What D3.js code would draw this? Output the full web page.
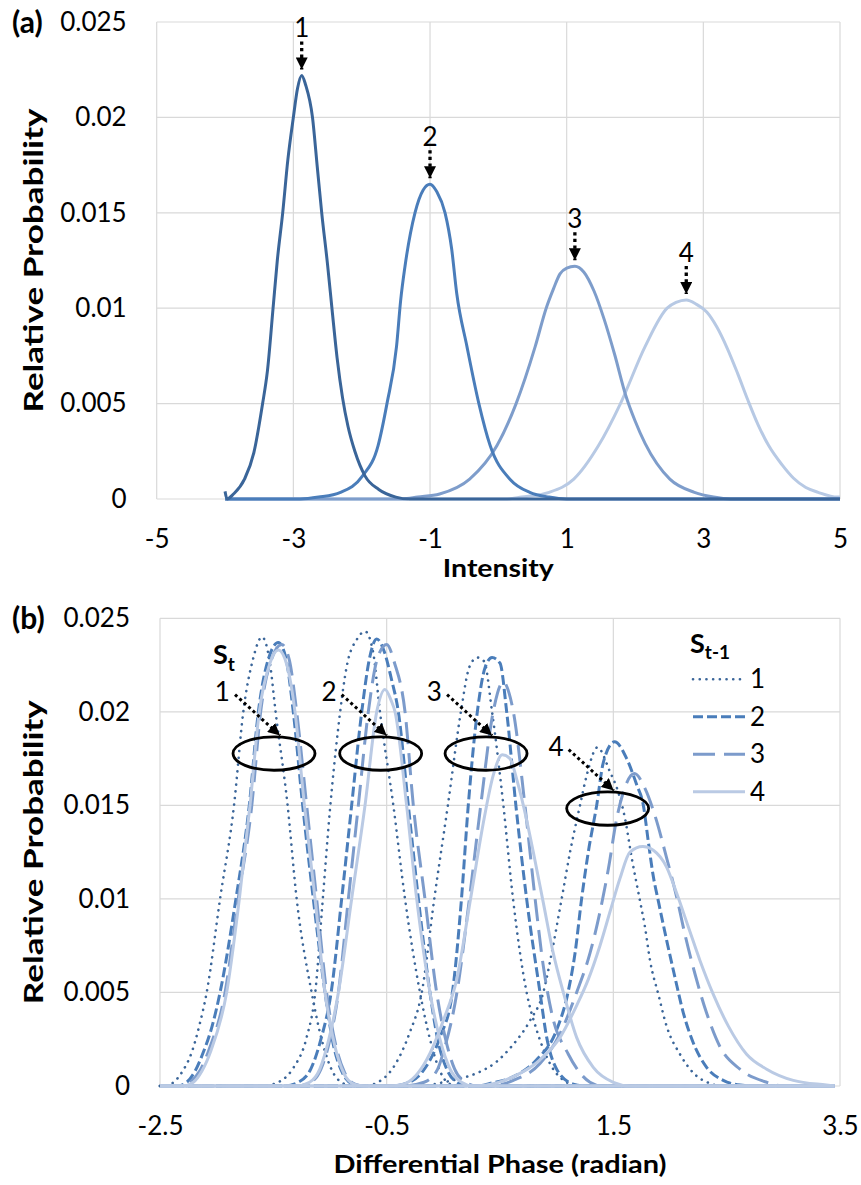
<!DOCTYPE html>
<html>
<head>
<meta charset="utf-8">
<script src="https://cdn.jsdelivr.net/npm/d3@7"></script>
<style>
  body { margin: 0; background: #fff; }
  svg { display: block; }
</style>
</head>
<body>
<div id="chart"></div>
<script>
// ---------- shared ----------
const probTicks = [0, 0.005, 0.01, 0.015, 0.02, 0.025];

// ---------- (a) intensity distributions, one per symbol ----------
const intensityTicks = [-5, -3, -1, 1, 3, 5];
const intensitySymbols = ['1', '2', '3', '4'];

const intensity1 = [[-4, 0.0004], [-3.97, 0], [-3.876, 0.00026], [-3.715, 0.00104], [-3.578, 0.00243],
  [-3.45, 0.005], [-3.38, 0.0067], [-3.297, 0.01], [-3.235, 0.0125], [-3.156, 0.015], [-3.08, 0.0178],
  [-3.0, 0.02], [-2.94, 0.0215], [-2.878, 0.0222], [-2.82, 0.0217], [-2.72, 0.02], [-2.65, 0.0174],
  [-2.585, 0.015], [-2.5, 0.0123], [-2.43, 0.0098], [-2.36, 0.0074], [-2.28, 0.0053], [-2.2, 0.0038],
  [-2.1, 0.0025], [-1.95, 0.0012], [-1.75, 0.0005], [-1.5, 0.0001], [-1.3, 0], [5, 0]];

const intensity2 = [[-4, 0], [-2.9, 0], [-2.63, 0.0001], [-2.31, 0.00035], [-1.99, 0.0012], [-1.76, 0.0028],
  [-1.63, 0.005], [-1.49, 0.008], [-1.43, 0.0104], [-1.366, 0.0122], [-1.22, 0.015], [-1.1, 0.0162],
  [-1.0, 0.0165], [-0.9, 0.0161], [-0.78, 0.015], [-0.683, 0.0131], [-0.61, 0.0108], [-0.46, 0.008],
  [-0.285, 0.005], [-0.12, 0.0028], [0.18, 0.001], [0.46, 0.00035], [0.74, 0.0001], [1.0, 0], [5, 0]];

const intensity3 = [[-4, 0], [-1.4, 0], [-1.18, 0.0001], [-0.86, 0.00026], [-0.42, 0.00104], [-0.02, 0.0028],
  [0.26, 0.005], [0.54, 0.008], [0.70, 0.01], [0.805, 0.011], [0.902, 0.0118], [1.0, 0.0121], [1.12, 0.0122],
  [1.25, 0.0119], [1.4, 0.0109], [1.55, 0.0094], [1.7, 0.0076], [1.867, 0.0054], [2.0, 0.0041],
  [2.149, 0.0029], [2.51, 0.00104], [2.87, 0.00035], [3.15, 0.0001], [3.4, 0], [5, 0]];

const intensity4 = [[-4, 0], [0.1, 0], [0.34, 0.0001], [0.743, 0.00035], [1.104, 0.00104], [1.466, 0.0028],
  [1.787, 0.005], [2.149, 0.008], [2.47, 0.01], [2.6, 0.0103], [2.75, 0.01043], [2.9, 0.0102],
  [3.05, 0.0098], [3.2, 0.009], [3.35, 0.0079], [3.5, 0.0066], [3.65, 0.0052], [3.8, 0.0039],
  [3.956, 0.0028], [4.15, 0.0018], [4.317, 0.0011], [4.5, 0.0006], [4.68, 0.00035], [4.96, 0.0001],
  [5, 0.0001]];

// ---------- (b) differential phase, by current (St) and previous (St-1) symbol ----------
const phaseTicks = [-2.5, -0.5, 1.5, 3.5];
const prevSymbols = ['1', '2', '3', '4'];

const phaseSt1Prev1 = [[-2.5, 0], [-2.45, 0], [-2.38, 0.0002], [-2.3, 0.0008], [-2.22, 0.0018], [-2.15, 0.0033],
  [-2.088, 0.005], [-1.97, 0.01], [-1.847, 0.015], [-1.765, 0.02], [-1.68, 0.0228], [-1.6, 0.024],
  [-1.53, 0.0226], [-1.48, 0.02], [-1.374, 0.015], [-1.294, 0.01], [-1.162, 0.005], [-1.07, 0.0024],
  [-0.98, 0.0008], [-0.9, 0.0002], [-0.8, 0], [3.45, 0]];
const phaseSt1Prev2 = [[-2.5, 0], [-2.35, 0], [-2.265, 0.0002], [-2.19, 0.0008], [-2.118, 0.0018], [-2.04, 0.0032],
  [-1.97, 0.005], [-1.83, 0.01], [-1.712, 0.015], [-1.632, 0.02], [-1.54, 0.0229], [-1.456, 0.0237],
  [-1.39, 0.0229], [-1.324, 0.02], [-1.241, 0.015], [-1.147, 0.01], [-1.044, 0.005], [-0.97, 0.0022],
  [-0.89, 0.0007], [-0.8, 0.0001], [-0.72, 0], [3.45, 0]];
const phaseSt1Prev3 = [[-2.5, 0], [-2.32, 0], [-2.235, 0.0002], [-2.15, 0.0008], [-2.07, 0.0019], [-1.926, 0.005],
  [-1.81, 0.01], [-1.69, 0.015], [-1.612, 0.02], [-1.51, 0.0229], [-1.426, 0.0236], [-1.36, 0.0228],
  [-1.294, 0.02], [-1.206, 0.015], [-1.118, 0.01], [-1.03, 0.005], [-0.95, 0.0022], [-0.87, 0.0007],
  [-0.78, 0.0001], [-0.7, 0], [3.45, 0]];
const phaseSt1Prev4 = [[-2.5, 0], [-2.3, 0], [-2.206, 0.0002], [-2.13, 0.0008], [-2.05, 0.0019], [-1.912, 0.005],
  [-1.8, 0.01], [-1.706, 0.015], [-1.624, 0.02], [-1.53, 0.0226], [-1.456, 0.0233], [-1.38, 0.0225],
  [-1.309, 0.02], [-1.226, 0.015], [-1.132, 0.01], [-1.044, 0.005], [-0.96, 0.0022], [-0.88, 0.0007],
  [-0.79, 0.0001], [-0.7, 0], [3.45, 0]];

const phaseSt2Prev1 = [[-2.5, 0], [-1.6, 0], [-1.5, 0.0001], [-1.32, 0.001], [-1.206, 0.0026], [-1.13, 0.005],
  [-1.07, 0.0095], [-1.0, 0.0148], [-0.93, 0.019], [-0.85, 0.0225], [-0.76, 0.0239], [-0.69, 0.0243],
  [-0.62, 0.0232], [-0.559, 0.02], [-0.441, 0.015], [-0.338, 0.01], [-0.206, 0.005], [-0.118, 0.0025],
  [-0.03, 0.0008], [0.06, 0.0001], [0.15, 0], [3.45, 0]];
const phaseSt2Prev2 = [[-2.5, 0], [-1.4, 0], [-1.28, 0.0002], [-1.17, 0.0009], [-1.08, 0.0025], [-0.99, 0.005],
  [-0.897, 0.01], [-0.809, 0.015], [-0.72, 0.02], [-0.65, 0.0229], [-0.588, 0.0239], [-0.52, 0.0232],
  [-0.46, 0.0218], [-0.397, 0.02], [-0.309, 0.015], [-0.22, 0.01], [-0.118, 0.005], [-0.05, 0.0025],
  [0.03, 0.0009], [0.12, 0.0002], [0.22, 0], [3.45, 0]];
const phaseSt2Prev3 = [[-2.5, 0], [-1.3, 0], [-1.17, 0.0002], [-1.08, 0.0009], [-1.0, 0.0025], [-0.926, 0.005],
  [-0.838, 0.01], [-0.75, 0.015], [-0.662, 0.02], [-0.58, 0.0229], [-0.5, 0.0236], [-0.43, 0.0226],
  [-0.338, 0.02], [-0.265, 0.015], [-0.162, 0.01], [-0.059, 0.005], [0.02, 0.0025], [0.1, 0.0009],
  [0.2, 0.0002], [0.3, 0], [3.45, 0]];
const phaseSt2Prev4 = [[-2.5, 0], [-1.3, 0], [-1.18, 0.0002], [-1.09, 0.0009], [-1.01, 0.0025], [-0.926, 0.005],
  [-0.809, 0.01], [-0.691, 0.015], [-0.588, 0.02], [-0.515, 0.0212], [-0.46, 0.0206], [-0.426, 0.02],
  [-0.324, 0.015], [-0.235, 0.01], [-0.118, 0.005], [-0.03, 0.0025], [0.06, 0.0009], [0.16, 0.0002],
  [0.26, 0], [3.45, 0]];

const phaseSt3Prev1 = [[-2.5, 0], [-0.7, 0], [-0.55, 0.0003], [-0.42, 0.0012], [-0.3, 0.0028], [-0.19, 0.005],
  [-0.08, 0.01], [0.04, 0.015], [0.155, 0.02], [0.23, 0.0224], [0.3, 0.0229], [0.36, 0.0227], [0.43, 0.02],
  [0.53, 0.015], [0.615, 0.01], [0.735, 0.005], [0.823, 0.003], [0.941, 0.0012], [1.088, 0.0002],
  [1.2, 0], [3.45, 0]];
const phaseSt3Prev2 = [[-2.5, 0], [-0.45, 0], [-0.3, 0.0002], [-0.18, 0.0008], [-0.03, 0.0026], [0.08, 0.005],
  [0.16, 0.01], [0.22, 0.015], [0.3, 0.02], [0.37, 0.0224], [0.43, 0.0229], [0.5, 0.0226], [0.559, 0.02],
  [0.64, 0.015], [0.735, 0.01], [0.853, 0.005], [0.912, 0.0026], [1.0, 0.0009], [1.147, 0.0001],
  [1.25, 0], [3.45, 0]];
const phaseSt3Prev3 = [[-2.5, 0], [-0.35, 0], [-0.17, 0.0002], [-0.05, 0.0009], [0.0, 0.0018], [0.12, 0.005],
  [0.23, 0.01], [0.33, 0.015], [0.44, 0.02], [0.53, 0.0216], [0.58, 0.021], [0.618, 0.02], [0.72, 0.015],
  [0.81, 0.01], [0.88, 0.0065], [0.956, 0.0039], [1.103, 0.0017], [1.294, 0.0002], [1.4, 0], [3.45, 0]];
const phaseSt3Prev4 = [[-2.5, 0], [-0.5, 0], [-0.353, 0.0001], [-0.147, 0.0014], [0.0, 0.0035], [0.118, 0.0057],
  [0.24, 0.01], [0.36, 0.0143], [0.44, 0.0166], [0.52, 0.0177], [0.588, 0.0175], [0.647, 0.0164],
  [0.706, 0.015], [0.794, 0.0125], [0.882, 0.0098], [0.97, 0.0071], [1.059, 0.005], [1.176, 0.0026],
  [1.323, 0.001], [1.5, 0.0002], [1.65, 0], [3.45, 0]];

const phaseSt4Prev1 = [[-2.5, 0], [-0.2, 0], [0.0, 0.0002], [0.15, 0.0004], [0.3, 0.0007], [0.47, 0.0013],
  [0.6, 0.0021], [0.765, 0.0035], [0.882, 0.005], [0.956, 0.0071], [1.044, 0.01], [1.118, 0.0125],
  [1.206, 0.015], [1.265, 0.0166], [1.36, 0.0181], [1.47, 0.0168], [1.544, 0.0157], [1.603, 0.0143],
  [1.662, 0.0122], [1.735, 0.0099], [1.779, 0.0085], [1.824, 0.0067], [1.897, 0.0049], [1.97, 0.0032],
  [2.088, 0.0017], [2.206, 0.0007], [2.353, 0.00014], [2.45, 0], [3.45, 0]];
const phaseSt4Prev2 = [[-2.5, 0], [0.3, 0], [0.41, 0.00014], [0.618, 0.0005], [0.823, 0.0014], [1.0, 0.003],
  [1.1, 0.005], [1.162, 0.0071], [1.22, 0.01], [1.279, 0.0125], [1.353, 0.015], [1.412, 0.0173],
  [1.51, 0.0184], [1.618, 0.0175], [1.706, 0.0161], [1.765, 0.015], [1.81, 0.013], [1.85, 0.0113],
  [1.9, 0.0098], [1.97, 0.0078], [2.044, 0.0058], [2.118, 0.0039], [2.206, 0.0023], [2.323, 0.001],
  [2.47, 0.0003], [2.62, 0.00005], [2.75, 0], [3.45, 0]];
const phaseSt4Prev3 = [[-2.5, 0], [0.4, 0], [0.618, 0.0003], [0.853, 0.0012], [1.03, 0.0028], [1.176, 0.005],
  [1.294, 0.0071], [1.382, 0.0093], [1.456, 0.0116], [1.53, 0.0143], [1.588, 0.0157], [1.685, 0.0167],
  [1.78, 0.0159], [1.87, 0.0144], [1.97, 0.0122], [2.059, 0.0101], [2.132, 0.0081], [2.22, 0.006],
  [2.323, 0.0039], [2.441, 0.0021], [2.617, 0.0009], [2.853, 0.0002], [3.0, 0], [3.45, 0]];
const phaseSt4Prev4 = [[-2.5, 0], [0.25, 0], [0.38, 0.00005], [0.618, 0.0005], [0.853, 0.0014], [1.03, 0.0026],
  [1.176, 0.0043], [1.279, 0.0057], [1.382, 0.0075], [1.47, 0.0093], [1.559, 0.0111], [1.647, 0.0125],
  [1.76, 0.0128], [1.853, 0.0126], [1.97, 0.0117], [2.059, 0.0103], [2.162, 0.0085], [2.265, 0.0067],
  [2.382, 0.0049], [2.515, 0.0032], [2.676, 0.0017], [2.853, 0.0009], [3.088, 0.0003], [3.38, 0.00005],
  [3.45, 0]];

// ellipse marks around each St cluster (phase, probability)
const clusterPhase = [-1.494, -0.553, 0.377, 1.45];
const clusterProb = [0.01777, 0.01777, 0.01777, 0.01483];

// ---------- styling ----------
const FONT = 'Lato, "Open Sans", "Noto Sans", sans-serif';
const gridColor = '#d9d9d9';
const intensityColors = ['#3A6599', '#4A7DBA', '#7E9DCB', '#B7C9E4'];
const prevStyles = [
  { color: '#3A6599', width: 2.6, dash: '0.1,6.6', cap: 'round' },
  { color: '#4A7DBA', width: 3, dash: '10,4', cap: 'butt' },
  { color: '#7C9BCB', width: 3, dash: '22,9', cap: 'butt' },
  { color: '#BACAE4', width: 3, dash: null, cap: 'butt' }
];

const svg = d3.select('#chart').append('svg')
  .attr('width', 861)
  .attr('height', 1185)
  .style('font-family', FONT);

const defs = svg.append('defs');
defs.append('marker')
  .attr('id', 'arrow-tip')
  .attr('viewBox', '0 0 12 12')
  .attr('refX', 12)
  .attr('refY', 6)
  .attr('markerWidth', 12)
  .attr('markerHeight', 12)
  .attr('markerUnits', 'userSpaceOnUse')
  .attr('orient', 'auto')
  .append('path')
  .attr('d', 'M0,0 L12,6 L0,12 Z')
  .attr('fill', '#000');

// frame, gridlines, tick labels and titles for one panel
function makePanel({ left, top, width, height, xDomain, xTicks, xTitle, xTitleLen, xTitleGap, tag }) {
  const g = svg.append('g').attr('transform', `translate(${left},${top})`);
  const x = d3.scaleLinear().domain(xDomain).range([0, width]);
  const y = d3.scaleLinear().domain([0, 0.025]).range([height, 0]);

  g.append('g').selectAll('line')
    .data(xTicks)
    .join('line')
    .attr('x1', d => x(d)).attr('x2', d => x(d))
    .attr('y1', 0).attr('y2', height)
    .attr('stroke', gridColor)
    .attr('stroke-width', 1.2);

  g.append('g').selectAll('line')
    .data(probTicks)
    .join('line')
    .attr('x1', 0).attr('x2', width)
    .attr('y1', d => y(d)).attr('y2', d => y(d))
    .attr('stroke', gridColor)
    .attr('stroke-width', 1.2);

  g.append('g')
    .attr('transform', `translate(0,${height})`)
    .call(d3.axisBottom(x).tickValues(xTicks).tickSize(0).tickPadding(31).tickFormat(d => String(d)))
    .call(ax => ax.select('.domain').remove())
    .attr('font-family', FONT)
    .attr('font-size', 26)
    .selectAll('text').attr('fill', '#000');

  g.append('g')
    .call(d3.axisLeft(y).tickValues(probTicks).tickSize(0).tickPadding(30).tickFormat(d => String(d)))
    .call(ax => ax.select('.domain').remove())
    .attr('font-family', FONT)
    .attr('font-size', 26)
    .selectAll('text').attr('fill', '#000');

  g.append('text')
    .attr('x', width / 2)
    .attr('y', height + xTitleGap)
    .attr('text-anchor', 'middle')
    .attr('font-weight', 'bold')
    .attr('font-size', 25)
    .attr('textLength', xTitleLen)
    .attr('lengthAdjust', 'spacingAndGlyphs')
    .text(xTitle);

  g.append('text')
    .attr('transform', `translate(${34 - left},${height / 2}) rotate(-90)`)
    .attr('text-anchor', 'middle')
    .attr('dy', '0.35em')
    .attr('font-weight', 'bold')
    .attr('font-size', 27)
    .attr('textLength', 304)
    .attr('lengthAdjust', 'spacingAndGlyphs')
    .text('Relative Probability');

  g.append('text')
    .attr('x', 12 - left)
    .attr('y', 0)
    .attr('dy', '0.36em')
    .attr('font-weight', 'bold')
    .attr('font-size', 30)
    .text(tag);

  return { g, x, y };
}

// ---------- panel (a) ----------
const a = makePanel({
  left: 156.7, top: 22, width: 683.3, height: 477,
  xDomain: [-5, 5], xTicks: intensityTicks,
  xTitle: 'Intensity', xTitleLen: 111, xTitleGap: 78, tag: '(a)'
});

const intensityCurves = [intensity1, intensity2, intensity3, intensity4];
const lineA = d3.line()
  .x(d => a.x(d[0]))
  .y(d => a.y(d[1]))
  .curve(d3.curveMonotoneX);

a.g.append('g').selectAll('path')
  .data(intensityCurves.map((pts, i) => ({ pts, i })).reverse())
  .join('path')
  .attr('d', d => lineA(d.pts))
  .attr('fill', 'none')
  .attr('stroke', d => intensityColors[d.i])
  .attr('stroke-width', 3)
  .attr('stroke-linejoin', 'round');

// peak call-outs
const peaks = intensityCurves.map((pts, i) => {
  const p = d3.greatest(pts, d => d[1]);
  return { label: intensitySymbols[i], px: a.x(p[0]), py: a.y(p[1]) };
});
const callA = a.g.append('g').selectAll('g').data(peaks).join('g');
callA.append('line')
  .attr('x1', d => d.px).attr('x2', d => d.px)
  .attr('y1', d => d.py - 34).attr('y2', d => d.py - 6)
  .attr('stroke', '#000')
  .attr('stroke-width', 3.3)
  .attr('stroke-dasharray', '3.3,3.3')
  .attr('marker-end', 'url(#arrow-tip)');
callA.append('text')
  .attr('x', d => d.px)
  .attr('y', d => d.py - 38)
  .attr('text-anchor', 'middle')
  .attr('font-size', 26)
  .text(d => d.label);

// ---------- panel (b) ----------
const b = makePanel({
  left: 160, top: 618.3, width: 680, height: 467.7,
  xDomain: [-2.5, 3.5], xTicks: phaseTicks,
  xTitle: 'Differential Phase (radian)', xTitleLen: 333, xTitleGap: 87, tag: '(b)'
});

const phaseCurves = [
  [phaseSt1Prev1, phaseSt1Prev2, phaseSt1Prev3, phaseSt1Prev4],
  [phaseSt2Prev1, phaseSt2Prev2, phaseSt2Prev3, phaseSt2Prev4],
  [phaseSt3Prev1, phaseSt3Prev2, phaseSt3Prev3, phaseSt3Prev4],
  [phaseSt4Prev1, phaseSt4Prev2, phaseSt4Prev3, phaseSt4Prev4]
];
// draw by previous symbol so each line style stacks together
const phaseSeries = [];
prevSymbols.forEach((_, p) => phaseCurves.forEach(group => phaseSeries.push({ pts: group[p], style: prevStyles[p] })));

const lineB = d3.line()
  .x(d => b.x(d[0]))
  .y(d => b.y(d[1]))
  .curve(d3.curveMonotoneX);

b.g.append('g').selectAll('path')
  .data(phaseSeries)
  .join('path')
  .attr('d', d => lineB(d.pts))
  .attr('fill', 'none')
  .attr('stroke', d => d.style.color)
  .attr('stroke-width', d => d.style.width)
  .attr('stroke-dasharray', d => d.style.dash)
  .attr('stroke-linecap', d => d.style.cap)
  .attr('stroke-linejoin', 'round');

// St clusters: ellipse plus dotted arrow from the symbol number
const clusters = clusterPhase.map((ph, i) => ({ cx: b.x(ph), cy: b.y(clusterProb[i]), label: String(i + 1) }));
const callB = b.g.append('g').selectAll('g').data(clusters).join('g');
callB.append('ellipse')
  .attr('cx', d => d.cx).attr('cy', d => d.cy)
  .attr('rx', 41).attr('ry', 16.7)
  .attr('fill', 'none')
  .attr('stroke', '#000')
  .attr('stroke-width', 2.8);
callB.append('line')
  .attr('x1', d => d.cx - 39).attr('y1', d => d.cy - 59)
  .attr('x2', d => d.cx + 6).attr('y2', d => d.cy - 18)
  .attr('stroke', '#000')
  .attr('stroke-width', 3)
  .attr('stroke-dasharray', '3,3')
  .attr('marker-end', 'url(#arrow-tip)');
callB.append('text')
  .attr('x', d => d.cx - 51.7)
  .attr('y', d => d.cy - 62)
  .attr('dy', '0.35em')
  .attr('text-anchor', 'middle')
  .attr('font-size', 26)
  .text(d => d.label);

const stLabel = b.g.append('text')
  .attr('x', 53)
  .attr('y', 46)
  .attr('font-weight', 'bold')
  .attr('font-size', 27);
stLabel.append('tspan').text('S');
stLabel.append('tspan').attr('font-size', 19).attr('dy', 7).text('t');

// legend for St-1
const legend = b.g.append('g').attr('transform', 'translate(530,0)');
const legTitle = legend.append('text')
  .attr('x', 0)
  .attr('y', 35)
  .attr('font-weight', 'bold')
  .attr('font-size', 27);
legTitle.append('tspan').text('S');
legTitle.append('tspan').attr('font-size', 19).attr('dy', 6).text('t-1');

const legItems = legend.selectAll('.legend-item')
  .data(prevSymbols)
  .join('g')
  .attr('class', 'legend-item')
  .attr('transform', (d, i) => `translate(0,${61 + i * 37.5})`);
legItems.append('line')
  .attr('x1', 3).attr('x2', 55)
  .attr('stroke', (d, i) => prevStyles[i].color)
  .attr('stroke-width', (d, i) => prevStyles[i].width)
  .attr('stroke-dasharray', (d, i) => prevStyles[i].dash)
  .attr('stroke-linecap', (d, i) => prevStyles[i].cap);
legItems.append('text')
  .attr('x', 60)
  .attr('dy', '0.35em')
  .attr('font-size', 26)
  .text(d => d);
</script>
</body>
</html>
